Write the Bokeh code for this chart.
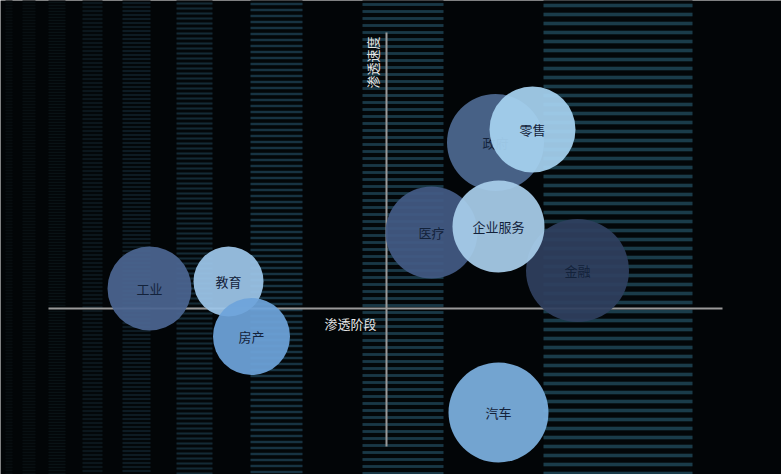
from bokeh.plotting import figure
from bokeh.models import Range1d
from bokeh.core.properties import value
from bokeh.embed import file_html
from bokeh.resources import INLINE
import math

# ---- data ----
industries = ["工业", "教育", "房产", "金融", "政府", "零售", "医疗", "企业服务", "汽车"]
stage = [-23.7, -15.8, -13.5, 19.1, 10.9, 14.6, 4.5, 11.2, 11.2]      # 渗透阶段
speed = [2.0, 2.7, -2.8, 3.8, 16.6, 17.9, 7.6, 8.2, -10.4]            # 渗透速度
size = [4.2, 3.5, 3.85, 5.15, 4.85, 4.3, 4.6, 4.6, 5.0]                 # bubble radius
colors = ["#4b6591", "#9dc6e9", "#6ea4da", "#2f3f5f", "#4c6890",
          "#a6d2f0", "#435a84", "#a8cdeb", "#7cb0e0"]
x_title = "渗透阶段"
y_title = "渗透速度"

# decorative background bands (x0, x1 in data units), stripe colour, spacing
band_x0 = [-38.1, -36.4, -33.8, -30.4, -26.4, -21.0, -13.6, -2.4, 15.7]
band_x1 = [-37.4, -35.1, -32.1, -28.4, -23.6, -17.4, -8.4, 5.7, 30.6]
band_col = ["#070d10", "#080f12", "#091215", "#0c1a20", "#0f2029", "#132a35",
            "#173342", "#193847", "#1a3c4a"]
band_sp = [3, 3, 3, 4, 4, 5, 6, 7, 9]

BG = "#020507"
p = figure(width=781, height=474, output_backend="svg", toolbar_location=None,
           x_range=Range1d(-38.6, 39.5), y_range=Range1d(-16.6, 30.8),
           x_axis_location=None, y_axis_location=None, min_border=0,
           background_fill_color=BG, border_fill_color=BG, outline_line_color=None)
p.grid.visible = False

for x0, x1, c, sp in zip(band_x0, band_x1, band_col, band_sp):
    p.quad(left=x0, right=x1, bottom=-17, top=31, fill_color="#030709", line_color=None,
           hatch_pattern="horizontal_line", hatch_color=c, hatch_scale=sp,
           hatch_weight=sp * 0.4)

# axes lines
p.segment(x0=-33.8, y0=0, x1=33.6, y1=0, line_color="#9a9a9a", line_width=2)
p.segment(x0=0, y0=27.6, x1=0, y1=-13.8, line_color="#9a9a9a", line_width=2)

p.text(x=[-3.6], y=[-1.5], text=[x_title], text_color="#e6e6e6",
       text_font=value("Noto Sans CJK SC"), text_font_size="13px",
       text_align="center", text_baseline="middle")
p.text(x=[-1.4], y=[24.6], text=[y_title], text_color="#e6e6e6", angle=math.pi / 2,
       text_font=value("Noto Sans CJK SC"), text_font_size="13px",
       text_align="center", text_baseline="middle")

for name, x, y, r, c in zip(industries, stage, speed, size, colors):
    p.circle(x=[x], y=[y], radius=r, fill_color=c, fill_alpha=0.93, line_color=None)
    p.text(x=[x], y=[y], text=[name], text_color="#13223a",
           text_font=value("Noto Sans CJK SC"), text_font_size="13px",
           text_align="center", text_baseline="middle")

html = file_html(p, INLINE)
html = html.replace("<body>", '<body style="margin:0;background:%s">' % BG, 1)
open("out.html", "w").write(html)
